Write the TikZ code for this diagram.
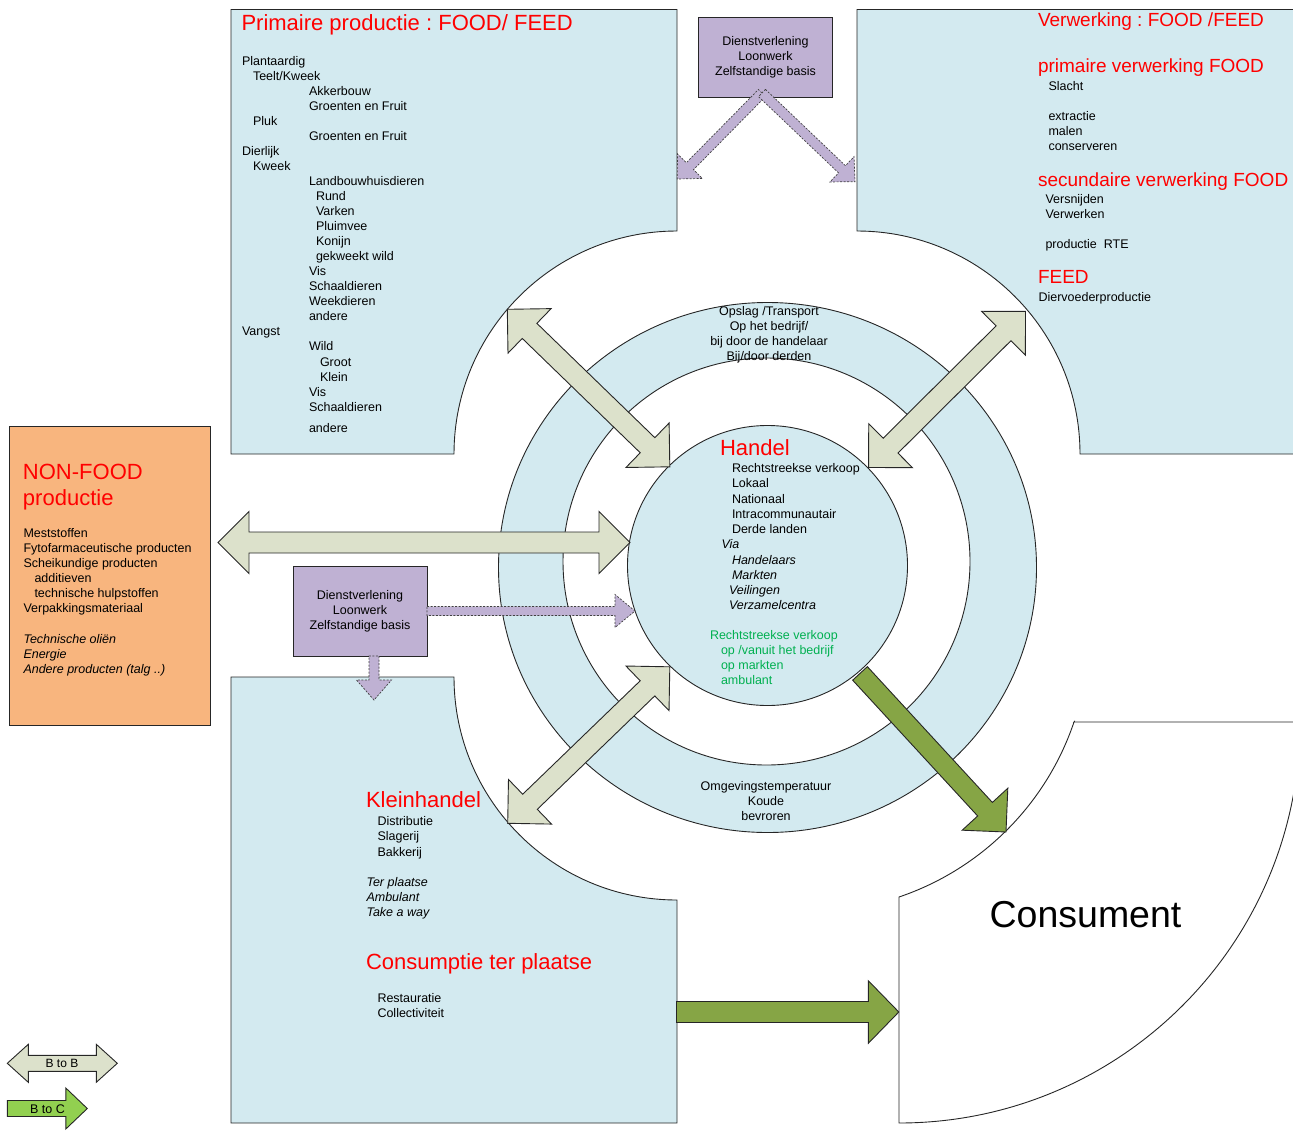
\documentclass[tikz,border=0pt]{standalone}
\usepackage{fontspec}
\setmainfont{Liberation Sans}
\usetikzlibrary{calc}
\frenchspacing
\definecolor{lblue}{HTML}{D3EAF0}
\definecolor{ggreen}{HTML}{DCE1CB}
\definecolor{ogreen}{HTML}{86A545}
\definecolor{lgreen}{HTML}{92D050}
\definecolor{lpurple}{HTML}{BFB1D3}
\definecolor{orng}{HTML}{F8B57E}
\definecolor{tgreen}{HTML}{00B050}
\definecolor{tred}{HTML}{FF0000}
\newcommand\smallfont{\fontsize{12.5}{15.05}\selectfont}
\newcommand\txtlines[1]{\begin{tabular}[t]{@{}l@{}}#1\end{tabular}}
\newcommand\txtclines[1]{\begin{tabular}[t]{@{}c@{}}#1\end{tabular}}
\newcommand\dblarrow[6]{%
  \draw[#1] (#2)
   -- ($(#2)!#4!(#3)!#5!90:(#3)$)
   -- ($(#2)!#4!(#3)!#6!90:(#3)$)
   -- ($(#3)!#4!(#2)!#6!-90:(#2)$)
   -- ($(#3)!#4!(#2)!#5!-90:(#2)$)
   -- (#3)
   -- ($(#3)!#4!(#2)!#5!90:(#2)$)
   -- ($(#3)!#4!(#2)!#6!90:(#2)$)
   -- ($(#2)!#4!(#3)!#6!-90:(#3)$)
   -- ($(#2)!#4!(#3)!#5!-90:(#3)$)
   -- cycle;}
\newcommand\sglarrow[6]{%
  \draw[#1] ($(#2)!#6!90:(#3)$)
   -- ($(#3)!#4!(#2)!#6!-90:(#2)$)
   -- ($(#3)!#4!(#2)!#5!-90:(#2)$)
   -- (#3)
   -- ($(#3)!#4!(#2)!#5!90:(#2)$)
   -- ($(#3)!#4!(#2)!#6!90:(#2)$)
   -- ($(#2)!#6!-90:(#3)$)
   -- cycle;}
\begin{document}
\frenchspacing
\begin{tikzpicture}[x=1pt,y=-1pt,
  outl/.style={draw=black!85, line width=0.9pt},
  bluebox/.style={outl, fill=lblue},
  bbarrow/.style={outl, fill=ggreen},
  bcarrow/.style={outl, fill=ogreen},
  legc/.style={outl, fill=lgreen},
  dvarrow/.style={draw=black!75, line width=0.7pt, dash pattern=on 2pt off 1.5pt, fill=lpurple},
  pbox/.style={outl, fill=lpurple, inner sep=0pt, font=\smallfont},
  txt/.style={inner sep=0pt, outer sep=0pt, anchor=base west, font=\smallfont},
  ctxt/.style={inner sep=0pt, outer sep=0pt, anchor=base, font=\smallfont},
  rtitle/.style={inner sep=0pt, outer sep=0pt, anchor=base west, text=tred, font=\fontsize{22}{26}\selectfont},
  rsub/.style={inner sep=0pt, outer sep=0pt, anchor=base west, text=tred, font=\fontsize{19}{22}\selectfont}]
\useasboundingbox (0,0) rectangle (1293,1130);
\clip (0,0) rectangle (1293,1130);

% blue boxes with circular bites
\draw[bluebox] (231,9.5) -- (677,9.5) -- (677,231) arc[start angle=-90,end angle=-180,radius=223] -- (231,454) -- cycle;
\draw[bluebox] (857,9.5) -- (1300,9.5) -- (1300,454) -- (1080,454) arc[start angle=0,end angle=-90,radius=223] -- cycle;
\draw[bluebox] (231,677) -- (454,677) arc[start angle=180,end angle=90,radius=223] -- (677,1123) -- (231,1123) -- cycle;
% consument shape
\draw[outl, fill=white] (1074,722) -- (1300,722) arc[start angle=0,end angle=90,radius=401] -- (899,897) arc[start angle=71.3,end angle=18.7,radius=279.3] -- cycle;
% non-food
\node[outl, fill=orng, minimum width=201pt, minimum height=298.6pt, inner sep=0pt] (nonfood) at (110,576) {};

% rings
\draw[outl, fill=lblue] (767.5,567.5) ellipse [x radius=269, y radius=265];
\draw[outl, fill=white] (766.5,561.5) circle [radius=203.5];
\node[outl, circle, fill=lblue, minimum size=280pt, inner sep=0pt] (handel) at (767.5,565.5) {};

% purple boxes
\node[pbox, minimum width=133.6pt, minimum height=80.4pt] (dv1) at (765.5,57.5) {\txtclines{Dienstverlening\\Loonwerk\\Zelfstandige basis}};
\node[pbox, minimum width=134pt, minimum height=89.3pt] (dv2) at (360,611.3) {\txtclines{Dienstverlening\\Loonwerk\\Zelfstandige basis}};

% arrow end points
\coordinate (a1s) at (507.3,309.3);  \coordinate (a1e) at (669.8,466.8);
\coordinate (a2s) at (1025.5,311.4); \coordinate (a2e) at (868.6,467.5);
\coordinate (a3s) at (669.8,666.8);  \coordinate (a3e) at (507.7,823.3);
\coordinate (a4s) at (218,542.5);    \coordinate (a4e) at (630,542.5);
\coordinate (g1s) at (860,673.4);    \coordinate (g1e) at (1006,832);
\coordinate (g2s) at (676.5,1012);   \coordinate (g2e) at (898.8,1012);
\coordinate (p0) at (762,93);
\coordinate (p1e) at (677.3,179);    \coordinate (p2e) at (855,181.7);
\coordinate (p3s) at (427,611);      \coordinate (p3e) at (635,611);
\coordinate (p4s) at (374,656);      \coordinate (p4e) at (374,700);
\coordinate (l1s) at (7.3,1063.3);   \coordinate (l1e) at (117.3,1063.3);
\coordinate (l2s) at (7.3,1108.5);   \coordinate (l2e) at (87.3,1108.5);

% B to B arrows
\dblarrow{bbarrow}{a1s}{a1e}{31pt}{31pt}{10.5pt}
\dblarrow{bbarrow}{a2s}{a2e}{31pt}{31pt}{10.5pt}
\dblarrow{bbarrow}{a3s}{a3e}{31pt}{31pt}{10.5pt}
\dblarrow{bbarrow}{a4s}{a4e}{31pt}{31pt}{10.5pt}
% B to C arrows
\sglarrow{bcarrow}{g1s}{g1e}{31pt}{31pt}{10pt}
\sglarrow{bcarrow}{g2s}{g2e}{30.5pt}{31.3pt}{10.5pt}
% dienstverlening arrows
\sglarrow{dvarrow}{p0}{p1e}{18pt}{17.5pt}{5pt}
\sglarrow{dvarrow}{p0}{p2e}{18pt}{17.5pt}{5pt}
\sglarrow{dvarrow}{p3s}{p3e}{20pt}{16.5pt}{4.5pt}
\sglarrow{dvarrow}{p4s}{p4e}{20pt}{17.5pt}{5pt}
% legend
\dblarrow{bbarrow}{l1s}{l1e}{21pt}{19pt}{8pt}
\sglarrow{legc}{l2s}{l2e}{21.5pt}{20.5pt}{8pt}
\node[ctxt, font=\fontsize{12}{14}\selectfont] (lbb) at (62,1067.3) {B to B};
\node[ctxt, font=\fontsize{12.5}{14}\selectfont] (lbc) at (47.5,1113.3) {B to C};

% primaire productie
\node[rtitle] (pptitle) at (241.5,30.7) {Primaire productie : FOOD/ FEED};
\node[txt] (pplist) at (242,65) {\txtlines{Plantaardig\\
\hspace*{11pt}Teelt/Kweek\\
\hspace*{67pt}Akkerbouw\\
\hspace*{67pt}Groenten en Fruit\\
\hspace*{11pt}Pluk\\
\hspace*{67pt}Groenten en Fruit\\
Dierlijk\\
\hspace*{11pt}Kweek\\
\hspace*{67pt}Landbouwhuisdieren\\
\hspace*{74pt}Rund\\
\hspace*{74pt}Varken\\
\hspace*{74pt}Pluimvee\\
\hspace*{74pt}Konijn\\
\hspace*{74pt}gekweekt wild\\
\hspace*{67pt}Vis\\
\hspace*{67pt}Schaaldieren\\
\hspace*{67pt}Weekdieren\\
\hspace*{67pt}andere\\
Vangst\\
\hspace*{67pt}Wild\\
\hspace*{78pt}Groot\\
\hspace*{78pt}Klein\\
\hspace*{67pt}Vis\\
\hspace*{67pt}Schaaldieren\\[6pt]
\hspace*{67pt}andere}};

% verwerking
\node[rsub] (vtitle) at (1038,26.7) {Verwerking : FOOD /FEED};
\node[rsub] (vprim) at (1038,72.7) {primaire verwerking FOOD};
\node[txt] (vprimlist) at (1048.5,90) {\txtlines{Slacht\\ \\extractie\\malen\\conserveren}};
\node[rsub] (vsec) at (1038,186) {secundaire verwerking FOOD};
\node[txt] (vseclist) at (1045.5,203.3) {\txtlines{Versnijden\\Verwerken\\ \\productie\ \ RTE}};
\node[rsub] (vfeed) at (1038,283.3) {FEED};
\node[txt] (vfeedlist) at (1038.5,301) {Diervoederproductie};

% ring texts
\node[ctxt] (opslag) at (769,315) {\txtclines{Opslag /Transport\\Op het bedrijf/\\bij door de handelaar\\Bij/door derden}};
\node[ctxt] (temp) at (766,790.7) {\txtclines{Omgevingstemperatuur\\Koude\\bevroren}};

% handel
\node[rtitle] (htitle) at (720,455) {Handel};
\node[txt] (hlist) at (721.5,472.9) {\txtlines{\hspace*{10.5pt}Rechtstreekse verkoop\\
\hspace*{10.5pt}Lokaal\\
\hspace*{10.5pt}Nationaal\\
\hspace*{10.5pt}Intracommunautair\\
\hspace*{10.5pt}Derde landen\\
\textit{Via}\\[1pt]
\hspace*{10.5pt}\textit{Handelaars}\\
\hspace*{10.5pt}\textit{Markten}\\
\hspace*{7.5pt}\textit{Veilingen}\\
\hspace*{7.5pt}\textit{Verzamelcentra}}};
\node[txt, text=tgreen] (hgreen) at (710,639.3) {\txtlines{Rechtstreekse verkoop\\
\hspace*{11pt}op /vanuit het bedrijf\\
\hspace*{11pt}op markten\\
\hspace*{11pt}ambulant}};

% non-food
\node[rtitle] (nftitle) at (23,479) {\txtlines{NON-FOOD\\productie}};
\node[txt] (nflist) at (23.5,537.7) {\txtlines{Meststoffen\\
Fytofarmaceutische producten\\
Scheikundige producten\\
\hspace*{11pt}additieven\\
\hspace*{11pt}technische hulpstoffen\\
Verpakkingsmateriaal\\
 \\
\textit{Technische oliën}\\
\textit{Energie}\\
\textit{Andere producten (talg ..)}}};

% kleinhandel
\node[rtitle] (khtitle) at (366,807.3) {Kleinhandel};
\node[txt, font=\fontsize{12.5}{15.5}\selectfont] (khlist) at (377.5,825) {\txtlines{Distributie\\Slagerij\\Bakkerij}};
\node[txt] (khital) at (366.5,886) {\txtlines{\textit{Ter plaatse}\\\textit{Ambulant}\\\textit{Take a way}}};
\node[rtitle] (cptitle) at (366,969.3) {Consumptie ter plaatse};
\node[txt] (cplist) at (377.5,1002.7) {\txtlines{Restauratie\\Collectiviteit}};

% consument
\node[ctxt, font=\fontsize{37.5}{42}\selectfont] (cons) at (1085.5,927.7) {Consument};
\end{tikzpicture}
\end{document}
